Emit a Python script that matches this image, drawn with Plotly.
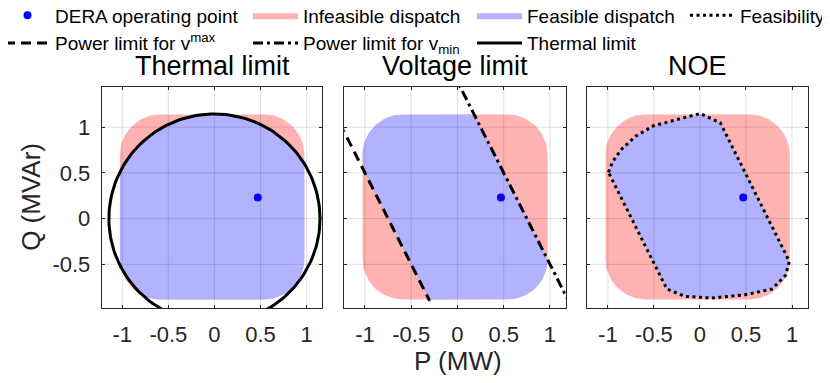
"""Thermal, voltage and NOE dispatch regions of a DERA in the P-Q plane."""
import numpy as np
import plotly.graph_objects as go

# ---- values ----
p_ticks = [-1, -0.5, 0, 0.5, 1]
p_tick_text = ["-1", "-0.5", "0", "0.5", "1"]
q_ticks = [-0.5, 0, 0.5, 1]
q_tick_text = ["-0.5", "0", "0.5", "1"]

panel_titles = ["Thermal limit", "Voltage limit", "NOE"]

# DERA operating point
op_p = [0.47]
op_q = [0.23]

# dispatch box (rounded corners)
box_p = [-1.025, 0.975]
box_q = [-0.885, 1.14]
box_corner = 0.44

# thermal limit circle
thermal_radius = 1.145

# power limits for v_max / v_min (end points of the drawn segments)
vmax_p = [-1.35, -0.3]
vmax_q = [1.2, -0.9]
vmin_p = [-0.05, 1.2]
vmin_q = [1.6, -0.9]

# NOE feasibility boundary
noe_p = [-0.993, -0.95, -0.85, -0.70, -0.504, -0.232, 0.003, 0.221,
         0.971, 0.93, 0.782, 0.492, 0.130, -0.160, -0.359, -0.993]
noe_q = [0.506, 0.62, 0.76, 0.90, 1.016, 1.085, 1.150, 1.048,
         -0.469, -0.62, -0.771, -0.833, -0.869, -0.851, -0.771, 0.506]

# ---- layout ----
# the page puts the figure 8px in from the window's top-left corner,
# so the figure is sized/positioned to land where the original sits
PAGE_OFFSET = 8
FIG_W, FIG_H = 830 - PAGE_OFFSET, 383 - PAGE_OFFSET


def px(x):
    return (x - PAGE_OFFSET) / FIG_W


def py(y):
    return 1 - (y - PAGE_OFFSET) / FIG_H


P_RANGE = [-1.223, 1.17]
Q_RANGE = [-0.978, 1.443]
X_DOMAINS = [[px(101.7), px(322.3)], [px(344.3), px(565.7)], [px(587.3), px(807.7)]]
Y_DOMAIN = [py(308), py(86.7)]
RED = "#FFB2B2"
BLUE = "#B2B2FF"
AXIS_COLOR = "#262626"
FONT = "Liberation Sans, Arial, Helvetica, sans-serif"


def rounded_box(p_lim, q_lim, r, n=30):
    p0, p1 = p_lim
    q0, q1 = q_lim
    centres = [(p1 - r, q1 - r, 0), (p0 + r, q1 - r, 90),
               (p0 + r, q0 + r, 180), (p1 - r, q0 + r, 270)]
    pts = []
    for cp, cq, a0 in centres:
        for a in np.radians(np.linspace(a0, a0 + 90, n)):
            pts.append((cp + r * np.cos(a), cq + r * np.sin(a)))
    return pts


def clip_halfplane(poly, a, b, ref):
    """Keep the part of poly on the same side of line a-b as point ref."""
    def side(pt):
        return (b[0] - a[0]) * (pt[1] - a[1]) - (b[1] - a[1]) * (pt[0] - a[0])
    s_ref = side(ref)
    out = []
    for i, cur in enumerate(poly):
        prev = poly[i - 1]
        sc, sp = side(cur) * s_ref, side(prev) * s_ref
        if (sc >= 0) != (sp >= 0):
            t = sp / (sp - sc)
            out.append((prev[0] + t * (cur[0] - prev[0]), prev[1] + t * (cur[1] - prev[1])))
        if sc >= 0:
            out.append(cur)
    return out


def clip_convex(poly, clipper):
    ref = (np.mean([c[0] for c in clipper]), np.mean([c[1] for c in clipper]))
    out = list(poly)
    for a, b in zip(clipper, clipper[1:] + clipper[:1]):
        out = clip_halfplane(out, a, b, ref)
    return out


def closed(pts):
    xs = [p for p, q in pts] + [pts[0][0]]
    ys = [q for p, q in pts] + [pts[0][1]]
    return xs, ys


box = rounded_box(box_p, box_q, box_corner)
ang = np.radians(np.arange(0, 361, 2))
circle = list(zip(thermal_radius * np.cos(ang), thermal_radius * np.sin(ang)))
op = (op_p[0], op_q[0])
noe = list(zip(noe_p, noe_q))

feasible = [
    clip_convex(circle, box),
    clip_halfplane(
        clip_halfplane(box, (vmax_p[0], vmax_q[0]), (vmax_p[1], vmax_q[1]), op),
        (vmin_p[0], vmin_q[0]), (vmin_p[1], vmin_q[1]), op),
    clip_convex(noe[:-1], box),
]

fig = go.Figure()

for i in range(3):
    xa = "x" if i == 0 else f"x{i + 1}"
    ya = "y" if i == 0 else f"y{i + 1}"
    first = i == 0

    bx, by = closed(box)
    fig.add_trace(go.Scatter(
        x=bx, y=by, xaxis=xa, yaxis=ya, mode="lines", fill="toself",
        fillcolor=RED, line=dict(width=0), name="Infeasible dispatch",
        showlegend=first, legend="legend2", legendrank=1, hoverinfo="skip",
    ))
    fx, fy = closed(feasible[i])
    fig.add_trace(go.Scatter(
        x=fx, y=fy, xaxis=xa, yaxis=ya, mode="lines", fill="toself",
        fillcolor=BLUE, line=dict(width=0), name="Feasible dispatch",
        showlegend=first, legend="legend3", legendrank=1, hoverinfo="skip",
    ))

    # grid drawn over the patches, as in the original
    gx, gy = [], []
    for t in p_ticks:
        gx += [t, t, None]
        gy += [Q_RANGE[0], Q_RANGE[1], None]
    for t in q_ticks:
        gx += [P_RANGE[0], P_RANGE[1], None]
        gy += [t, t, None]
    fig.add_trace(go.Scatter(
        x=gx, y=gy, xaxis=xa, yaxis=ya, mode="lines",
        line=dict(color="rgba(38,38,38,0.15)", width=1),
        showlegend=False, hoverinfo="skip",
    ))

    if i == 0:
        cx, cy = closed(circle)
        fig.add_trace(go.Scatter(
            x=cx, y=cy, xaxis=xa, yaxis=ya, mode="lines",
            line=dict(color="black", width=3), name="Thermal limit",
            legend="legend3", legendrank=2,
        ))
    elif i == 1:
        fig.add_trace(go.Scatter(
            x=vmax_p, y=vmax_q, xaxis=xa, yaxis=ya, mode="lines",
            line=dict(color="black", width=3, dash="10px,6px"),
            name="Power limit for v<sup>max</sup>", legend="legend", legendrank=2,
        ))
        fig.add_trace(go.Scatter(
            x=vmin_p, y=vmin_q, xaxis=xa, yaxis=ya, mode="lines",
            line=dict(color="black", width=3, dash="10px,4px,3px,4px"),
            name="Power limit for v<sub>min</sub>", legend="legend2", legendrank=2,
        ))
    else:
        fig.add_trace(go.Scatter(
            x=noe_p, y=noe_q, xaxis=xa, yaxis=ya, mode="lines",
            line=dict(color="black", width=3, dash="3px,3.5px"),
            name="Feasibility", legend="legend4", legendrank=1,
        ))

    fig.add_trace(go.Scatter(
        x=op_p, y=op_q, xaxis=xa, yaxis=ya, mode="markers",
        marker=dict(color="#0000FF", size=8), name="DERA operating point",
        showlegend=first, legend="legend", legendrank=1,
    ))

axis_common = dict(
    showgrid=False, zeroline=False, showline=True, mirror="ticks",
    linecolor=AXIS_COLOR, linewidth=1, ticks="inside", ticklen=3,
    tickcolor=AXIS_COLOR, tickfont=dict(size=22, color=AXIS_COLOR, family=FONT),
)
layout_axes = {}
for i in range(3):
    sx = "" if i == 0 else str(i + 1)
    layout_axes[f"xaxis{sx}"] = dict(
        axis_common, domain=X_DOMAINS[i], range=P_RANGE, anchor=f"y{sx}",
        tickvals=p_ticks, ticktext=p_tick_text, ticklabelstandoff=7,
    )
    layout_axes[f"yaxis{sx}"] = dict(
        axis_common, domain=Y_DOMAIN, range=Q_RANGE, anchor=f"x{sx}",
        tickvals=q_ticks, ticktext=q_tick_text, showticklabels=(i == 0),
        ticklabelstandoff=6,
    )

legend_common = dict(
    orientation="v", xanchor="left", yanchor="top", y=py(-3.5), itemwidth=45,
    font=dict(size=19, color="black", family=FONT), bgcolor="rgba(0,0,0,0)",
    traceorder="normal",
)

fig.update_layout(
    width=FIG_W, height=FIG_H,
    margin=dict(l=0, r=0, t=0, b=0, autoexpand=False),
    paper_bgcolor="white", plot_bgcolor="white",
    font=dict(family=FONT, color="black"),
    legend=dict(legend_common, x=px(0)),
    legend2=dict(legend_common, x=px(248)),
    legend3=dict(legend_common, x=px(472)),
    legend4=dict(legend_common, x=px(685)),
    **layout_axes,
)

for i, title in enumerate(panel_titles):
    fig.add_annotation(
        text=title, xref="paper", yref="paper",
        x=sum(X_DOMAINS[i]) / 2, y=py(66), xanchor="center", yanchor="middle",
        showarrow=False, font=dict(size=27, color="black", family=FONT),
    )

fig.add_annotation(
    text="Q (MVAr)", xref="paper", yref="paper", x=px(31.5), y=sum(Y_DOMAIN) / 2,
    textangle=-90, xanchor="center", yanchor="middle", showarrow=False,
    font=dict(size=26, color=AXIS_COLOR, family=FONT),
)
fig.add_annotation(
    text="P (MW)", xref="paper", yref="paper", x=px(458), y=py(361),
    xanchor="center", yanchor="middle", showarrow=False,
    font=dict(size=26, color=AXIS_COLOR, family=FONT),
)

fig.write_html("out.html")
